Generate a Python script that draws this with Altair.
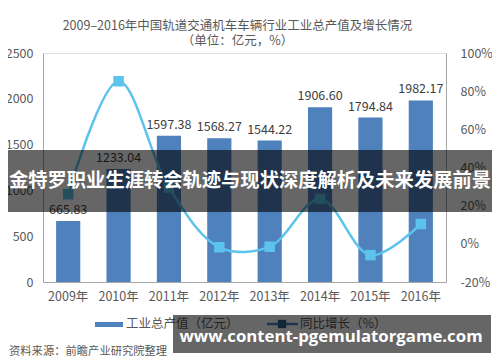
import altair as alt
import pandas as pd

years = ["2009年", "2010年", "2011年", "2012年", "2013年", "2014年", "2015年", "2016年"]
output = [665.83, 1233.04, 1597.38, 1568.27, 1544.22, 1906.60, 1794.84, 1982.17]
output_labels = ["665.83", "1233.04", "1597.38", "1568.27", "1544.22", "1906.60", "1794.84", "1982.17"]
growth = [26.0, 85.2, 29.5, -1.8, -1.5, 23.5, -5.9, 10.4]
left_ticks = [0, 500, 1000, 1500, 2000, 2500]
right_ticks = [-20, 0, 20, 40, 60, 80, 100]

df = pd.DataFrame({"year": years, "output": output, "label": output_labels, "growth": growth})
one = pd.DataFrame({"k": [0]})

FONT = "Noto Sans CJK SC"
GRAY = "#595959"
BAR = "#4f81bd"
LINE = "#5bc3ec"
W, H = 403, 229

xenc = alt.X("year:N", sort=years, title=None,
             scale=alt.Scale(paddingInner=0.52, paddingOuter=0.26),
             axis=alt.Axis(labelAngle=0, labelFontSize=12.5, labelColor=GRAY, labelFont=FONT,
                           domainColor="#a6a6a6", ticks=False, labelPadding=8))

left_axis = alt.Axis(values=left_ticks, grid=False, ticks=False, domainColor="#a6a6a6",
                     format="d", labelOverlap=False,
                     labelColor=GRAY, labelFontSize=12.5, labelFont=FONT, labelPadding=10)
right_axis = alt.Axis(orient="right", values=right_ticks, grid=False, ticks=False,
                      domainColor="#a6a6a6", labelColor=GRAY, labelFontSize=12.5, labelFont=FONT,
                      labelOverlap=False, labelPadding=14, labelExpr="datum.value + '%'")

base = alt.Chart(df)
bars = base.mark_bar(color=BAR).encode(
    x=xenc,
    y=alt.Y("output:Q", title=None, scale=alt.Scale(domain=[0, 2500]), axis=left_axis))
bar_text = base.mark_text(baseline="bottom", dy=-4, fontSize=12.5, color="#404040", font=FONT).encode(
    x=alt.X("year:N", sort=years),
    y=alt.Y("output:Q", title=None, scale=alt.Scale(domain=[0, 2500]), axis=left_axis),
    text="label:N")
left = alt.layer(bars, bar_text)

yr = alt.Y("growth:Q", title=None, scale=alt.Scale(domain=[-20, 100]), axis=right_axis)
line = base.mark_line(color=LINE, strokeWidth=2.5, interpolate="catmull-rom").encode(
    x=alt.X("year:N", sort=years), y=yr)
pts = base.mark_square(color=LINE, size=110, opacity=1).encode(
    x=alt.X("year:N", sort=years), y=yr)
right = alt.layer(line, pts)

dec = alt.Chart(one)
leg_rect = dec.mark_rect(color=BAR).encode(x=alt.value(52), x2=alt.value(80), y=alt.value(269), y2=alt.value(274))
leg_t1 = dec.mark_text(align="left", baseline="middle", fontSize=12.5, color=GRAY, font=FONT).encode(
    x=alt.value(83), y=alt.value(271), text=alt.value("工业总产值（亿元）"))
leg_line = dec.mark_rule(color=BAR, strokeWidth=2.5).encode(x=alt.value(224), x2=alt.value(255), y=alt.value(271))
leg_sq = dec.mark_square(color="#2f5f8f", size=70, opacity=1).encode(x=alt.value(239), y=alt.value(271))
leg_t2 = dec.mark_text(align="left", baseline="middle", fontSize=12.5, color=GRAY, font=FONT).encode(
    x=alt.value(257), y=alt.value(271), text=alt.value("同比增长（%）"))
source = dec.mark_text(align="left", baseline="middle", fontSize=11.3, color=GRAY, font=FONT).encode(
    x=alt.value(-34), y=alt.value(299), text=alt.value("资料来源：前瞻产业研究院整理"))

banner = dec.mark_rect(color="black", opacity=0.6).encode(
    x=alt.value(-37), x2=alt.value(450), y=alt.value(97), y2=alt.value(159))
banner_t = dec.mark_text(align="center", baseline="middle", fontSize=19.3, fontWeight="bold",
                         color="white", font=FONT).encode(
    x=alt.value(207), y=alt.value(128), text=alt.value("金特罗职业生涯转会轨迹与现状深度解析及未来发展前景"))
wm = dec.mark_rect(color="black", opacity=0.6).encode(
    x=alt.value(130), x2=alt.value(448), y=alt.value(262), y2=alt.value(300))
wm_t = dec.mark_text(align="center", baseline="middle", fontSize=16.8, fontWeight="bold",
                     color="white", font="Open Sans").encode(
    x=alt.value(288), y=alt.value(284), text=alt.value("www.content-pgemulatorgame.com"))

chart = alt.layer(
    left, right, leg_rect, leg_t1, leg_line, leg_sq, leg_t2, source, banner, banner_t, wm, wm_t
).resolve_scale(y="independent").properties(
    width=W, height=H,
    title=alt.TitleParams(text="2009–2016年中国轨道交通机车车辆行业工业总产值及增长情况",
                          subtitle="（单位：亿元，%）", fontSize=12.5, subtitleFontSize=12.5,
                          color=GRAY, subtitleColor=GRAY, fontWeight="normal", font=FONT,
                          subtitleFont=FONT, anchor="middle", offset=0, dx=-7, subtitlePadding=2),
    padding={"left": 35, "top": 45, "right": 46, "bottom": 80},
    autosize=alt.AutoSizeParams(type="none"),
).configure_view(stroke=None).configure(background="white")

chart.save("out.html", embed_options={"renderer": "svg", "actions": False})
